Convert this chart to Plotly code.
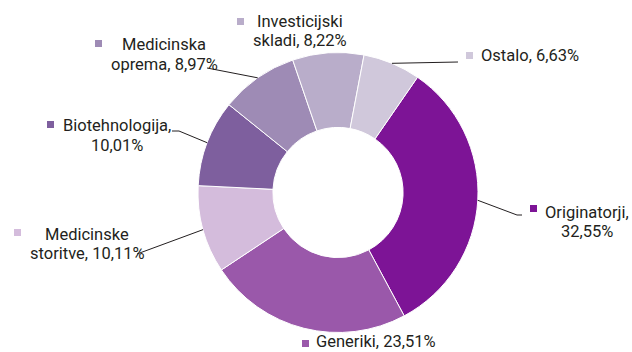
import numpy as np
import plotly.graph_objects as go

W, H = 632, 352

# Portfolio breakdown (share of assets, %)
categories = ["Originatorji", "Generiki", "Medicinske storitve", "Biotehnologija",
              "Medicinska oprema", "Investicijski skladi", "Ostalo"]
shares = [32.55, 23.51, 10.11, 10.01, 8.97, 8.22, 6.63]
colors = ["#7D1496", "#9A58AA", "#D4BCDC", "#7E5F9E", "#9E8BB5", "#B9ADCA", "#D0C8DB"]
label_texts = ["Originatorji,<br>32,55%", "Generiki, 23,51%", "Medicinske<br>storitve, 10,11%",
               "Biotehnologija,<br>10,01%", "Medicinska<br>oprema, 8,97%",
               "Investicijski<br>skladi, 8,22%", "Ostalo, 6,63%"]

# donut geometry (pixels)
cx, cy, R = 338.0, 192.5, 140.0
start_angle = 34.6  # degrees clockwise from 12 o'clock


def px(x):
    return x / W


def py(y):
    return 1 - y / H


fig = go.Figure(go.Pie(
    labels=categories, values=shares, sort=False, direction="clockwise",
    rotation=start_angle, hole=0.465,
    marker=dict(colors=colors, line=dict(color="#FFFFFF", width=1)),
    textinfo="none", hoverinfo="label+percent", showlegend=False,
    domain=dict(x=[px(cx - R), px(cx + R)], y=[py(cy + R), py(cy - R)]),
))

# label blocks: (text x, first line y, anchor, marker box x0, y0)
label_layout = {
    "Originatorji": (587, 212, "center", 530, 205),
    "Generiki": (315, 341, "left", 302, 340),
    "Medicinske storitve": (87, 234, "center", 14, 229),
    "Biotehnologija": (117, 126, "center", 47, 121),
    "Medicinska oprema": (164, 45, "center", 95, 40),
    "Investicijski skladi": (300, 21, "center", 237, 18),
    "Ostalo": (480, 55, "left", 466, 52),
}
line_step = 19.5
# leader line waypoints from the slice edge outwards (pixels)
leader_paths = {
    "Originatorji": [(517, 215), (522, 215)],
    "Medicinske storitve": [(137, 254)],
    "Biotehnologija": [(179, 131), (172, 131)],
    "Medicinska oprema": [(207, 68)],
    "Ostalo": [(458, 62)],
}

fractions = np.array(shares) / np.sum(shares)
ends = start_angle + 360 * np.cumsum(fractions)
mids = ends - 180 * fractions

shapes = []
annotations = []
for cat, txt, col, mid in zip(categories, label_texts, colors, mids):
    tx, ty, anchor, mx, my = label_layout[cat]
    for i, line in enumerate(txt.split("<br>")):
        annotations.append(dict(
            x=px(tx), y=py(ty + i * line_step), xref="paper", yref="paper",
            text=line, showarrow=False, xanchor=anchor, yanchor="middle",
            borderpad=0,
            font=dict(family="Roboto", size=16.5, color="#231F20"),
        ))
    shapes.append(dict(type="rect", xref="paper", yref="paper",
                       x0=px(mx), x1=px(mx + 7), y0=py(my + 7), y1=py(my),
                       fillcolor=col, line=dict(width=0)))
    if cat in leader_paths:
        a = np.radians(mid)
        pts = [(cx + R * np.sin(a), cy - R * np.cos(a))] + leader_paths[cat]
        path = "M " + " L ".join(f"{px(x):.5f},{py(y):.5f}" for x, y in pts)
        shapes.append(dict(type="path", xref="paper", yref="paper", path=path,
                           line=dict(color="#231F20", width=1)))

fig.update_layout(
    width=W, height=H, margin=dict(l=0, r=0, t=0, b=0),
    paper_bgcolor="#FFFFFF", plot_bgcolor="#FFFFFF",
    shapes=shapes, annotations=annotations,
)

fig.write_html("out.html")
